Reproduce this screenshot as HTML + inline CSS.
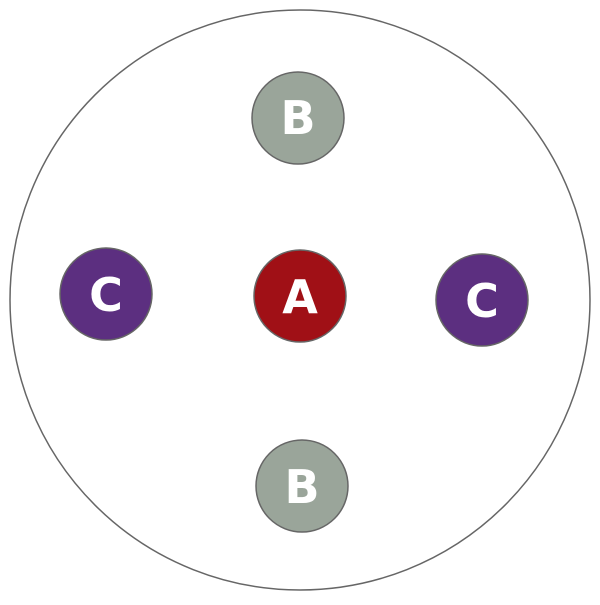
<!DOCTYPE html>
<html><head><style>html,body{margin:0;padding:0;background:#fff}</style></head>
<body>
<svg width="600" height="600" xmlns="http://www.w3.org/2000/svg">
<circle cx="300" cy="300" r="290" fill="#fff" stroke="#666" stroke-width="1.5"/>
<g stroke="#666" stroke-width="1.5">
<circle cx="298" cy="118" r="46" fill="#9aa59a"/>
<circle cx="106" cy="294" r="46" fill="#5c2f80"/>
<circle cx="300" cy="296" r="46" fill="#a01016"/>
<circle cx="482" cy="300" r="46" fill="#5c2f80"/>
<circle cx="302" cy="486" r="46" fill="#9aa59a"/>
</g>
<g font-family="DejaVu Sans, Liberation Sans, sans-serif" font-weight="bold" font-size="46" fill="#fff" text-anchor="middle">
<text x="298" y="134">B</text>
<text x="106" y="311">C</text>
<text x="300" y="313">A</text>
<text x="482" y="317">C</text>
<text x="302" y="503">B</text>
</g>
</svg>
</body></html>
